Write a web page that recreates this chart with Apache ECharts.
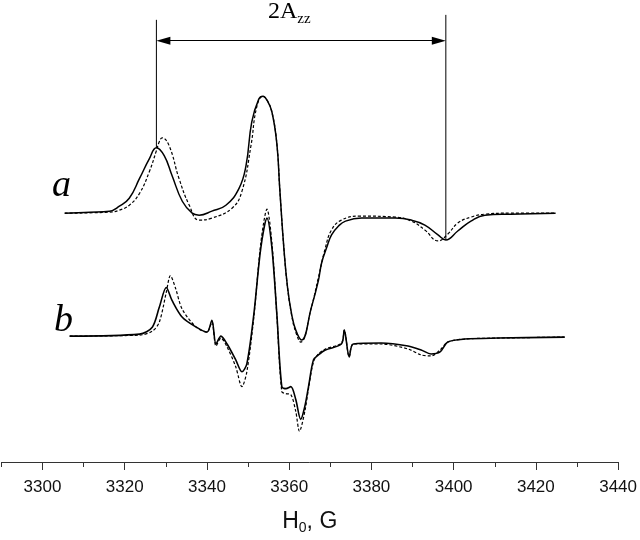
<!DOCTYPE html>
<html>
<head>
<meta charset="utf-8">
<script src="https://cdn.jsdelivr.net/npm/echarts@6/dist/echarts.min.js"></script>
<style>html,body{margin:0;padding:0;background:#fff;}#chart{width:640px;height:540px;}</style>
</head>
<body>
<div id="chart"></div>
<script>
// ---- data (field in G, signal in arbitrary units relative to each baseline) ----
const fieldA_exp = [3305.4,3311.5,3316.3,3318.7,3321.1,3323.6,3326.0,3327.7,3329.6,3331.5,3334.0,3336.4,3338.1,3341.2,3344.6,3347.8,3349.5,3350.9,3352.6,3353.6,3354.6,3355.8,3357.0,3357.7,3358.7,3359.6,3360.6,3361.6,3363.0,3365.4,3367.1,3367.9,3369.1,3370.3,3372.0,3373.7,3377.6,3385.8,3389.7,3393.0,3396.2,3398.1,3401.0,3404.2,3407.6,3413.9,3424.8];
const signalA_exp = [-1,0,1,6,14,34,54,65,57,37,11,-1,-3,1,7,24,47,91,114,117,113,101,69,24,-36,-76,-103,-119,-129,-96,-69,-51,-36,-23,-14,-9,-6,-6,-8,-13,-23,-28,-19,-9,-3,-2,-1];

const fieldA_sim = [3305.4,3316.3,3318.7,3321.1,3323.6,3326.0,3327.7,3328.4,3329.1,3330.8,3333.2,3335.7,3338.1,3341.2,3346.1,3348.5,3350.7,3352.1,3353.6,3354.6,3355.8,3357.0,3357.7,3358.7,3359.6,3360.6,3361.6,3362.8,3365.4,3367.1,3368.8,3370.3,3372.7,3377.0,3385.8,3389.7,3393.0,3396.2,3398.6,3401.0,3404.2,3407.6,3413.9,3424.8];
const signalA_sim = [-1,0,2,7,19,41,62,71,75,67,34,7,-8,-6,4,21,67,106,117,113,101,69,24,-36,-76,-104,-121,-131,-96,-66,-36,-18,-8,-4,-5,-9,-18,-29,-22,-11,-5,-2,-1,-1];

const fieldB_exp = [3306.6,3323.6,3326.7,3328.4,3330.1,3331.5,3334.0,3337.4,3340.0,3341.2,3342.2,3343.4,3344.9,3347.0,3348.5,3349.7,3351.4,3353.1,3354.6,3355.8,3357.0,3358.2,3359.2,3360.4,3361.6,3362.8,3363.8,3364.7,3365.9,3367.1,3368.8,3372.7,3373.4,3374.6,3375.6,3382.4,3388.9,3392.1,3394.5,3396.7,3398.6,3402.7,3410.7,3427.0];
const signalB_exp = [0,2,9,29,49,36,19,9,4,16,-8,0,-8,-24,-36,-28,22,89,119,89,22,-51,-53,-51,-64,-84,-71,-51,-24,-19,-14,-8,6,-21,-8,-7,-10,-14,-18,-16,-6,-3,-2,-1];

const fieldB_sim = [3306.6,3323.6,3326.7,3328.4,3330.1,3331.1,3332.3,3334.0,3337.4,3340.0,3341.2,3342.2,3343.4,3344.9,3347.0,3348.5,3349.7,3351.4,3353.1,3354.6,3355.8,3357.0,3358.2,3359.2,3360.4,3361.6,3362.5,3363.8,3364.7,3365.9,3367.1,3368.8,3372.7,3373.4,3374.6,3375.6,3382.4,3388.9,3392.1,3394.5,3396.7,3398.6,3402.7,3410.7,3427.0];
const signalB_sim = [0,1,5,14,44,61,49,27,9,4,14,-10,-2,-11,-31,-51,-36,19,94,128,94,21,-56,-58,-59,-76,-96,-76,-53,-26,-18,-13,-7,6,-21,-8,-8,-13,-19,-20,-14,-6,-3,-2,-1];

const xTickLabels = [3300,3320,3340,3360,3380,3400,3420,3440];
const xMinorTicks = [3290,3310,3330,3350,3370,3390,3410,3430];
const azzFields = [3327.7, 3398.1];   // positions of the 2Azz marker lines
const azzSignalA = [65, -28];         // spectrum a signal where the markers end

// ---- layout (positions only) ----
const offsetA = 252, offsetB = 127;   // vertical offsets of the two traces
const markerTops = [446, 451];
const arrowLevel = 425;

function pairs(xs, ys, off){ return xs.map((x,i)=>[x, ys[i]+off]); }

const chart = echarts.init(document.getElementById('chart'), null, {renderer:'canvas'});
const lineCommon = {type:'line', showSymbol:false, symbol:'none', smooth:0.3, animation:false, silent:true};
const fontSans = '"Liberation Sans", Arial, sans-serif';

chart.setOption({
  backgroundColor:'#ffffff',
  animation:false,
  grid:{left:1.4, right:19.1, top:0, bottom:74},
  xAxis:[{
    type:'value', min:3290, max:3440, position:'bottom',
    axisLine:{show:true, onZero:false, lineStyle:{color:'#333', width:1}},
    axisTick:{show:true, length:8, customValues:xTickLabels, lineStyle:{color:'#333'}},
    splitLine:{show:false},
    axisLabel:{margin:17, fontSize:17, color:'#111', fontFamily:fontSans, customValues:xTickLabels,
      formatter: v => String(v)},
    name:'{h|H}{s|0}{h|, G}', nameLocation:'middle', nameGap:46,
    nameTextStyle:{rich:{
      h:{fontSize:23, color:'#111', fontFamily:fontSans},
      s:{fontSize:14, color:'#111', fontFamily:fontSans, padding:[13,0,0,0]}
    }}
  },{
    type:'value', min:3290, max:3440, position:'bottom', offset:0,
    axisLine:{show:false, onZero:false},
    axisTick:{show:true, length:5, customValues:xMinorTicks, lineStyle:{color:'#333'}},
    axisLabel:{show:false},
    splitLine:{show:false}
  }],
  yAxis:{type:'value', min:0, max:466, show:false},
  series:[
    Object.assign({}, lineCommon, {name:'a exp', smooth:0.45, data:pairs(fieldA_exp, signalA_exp, offsetA), lineStyle:{color:'#000', width:1.5}}),
    Object.assign({}, lineCommon, {name:'a sim', smooth:0.45, data:pairs(fieldA_sim, signalA_sim, offsetA), lineStyle:{color:'#000', width:1.2, type:[3,2]}}),
    Object.assign({}, lineCommon, {name:'b exp', data:pairs(fieldB_exp, signalB_exp, offsetB), lineStyle:{color:'#000', width:1.6}}),
    Object.assign({}, lineCommon, {name:'b sim', data:pairs(fieldB_sim, signalB_sim, offsetB), lineStyle:{color:'#000', width:1.2, type:[3,2]}}),
    Object.assign({}, lineCommon, {name:'m1', smooth:false, data:[[azzFields[0], azzSignalA[0]+offsetA],[azzFields[0], markerTops[0]]], lineStyle:{color:'#000', width:1}}),
    Object.assign({}, lineCommon, {name:'m2', smooth:false, data:[[azzFields[1], azzSignalA[1]+offsetA],[azzFields[1], markerTops[1]]], lineStyle:{color:'#000', width:1},
      markLine:{silent:true, animation:false, symbol:['triangle','triangle'], symbolSize:[8,14],
        lineStyle:{color:'#000', width:1, type:'solid'}, label:{show:false},
        data:[[{coord:[azzFields[0]+1.7, arrowLevel]},{coord:[azzFields[1]-1.7, arrowLevel]}]]}})
  ],
  graphic:[
    {type:'text', left:52, top:167, style:{text:'a', font:'italic 38px "Liberation Serif", "Times New Roman", serif', fill:'#000'}},
    {type:'text', left:54, top:302, style:{text:'b', font:'italic 38px "Liberation Serif", "Times New Roman", serif', fill:'#000'}},
    {type:'text', left:268, top:0, style:{text:'{m|2A}{s|zz}', rich:{
      m:{font:'24px "Liberation Serif", "Times New Roman", serif', fill:'#000'},
      s:{font:'15px "Liberation Serif", "Times New Roman", serif', fill:'#000', padding:[14,0,0,0]}}}}
  ]
});
</script>
</body>
</html>
